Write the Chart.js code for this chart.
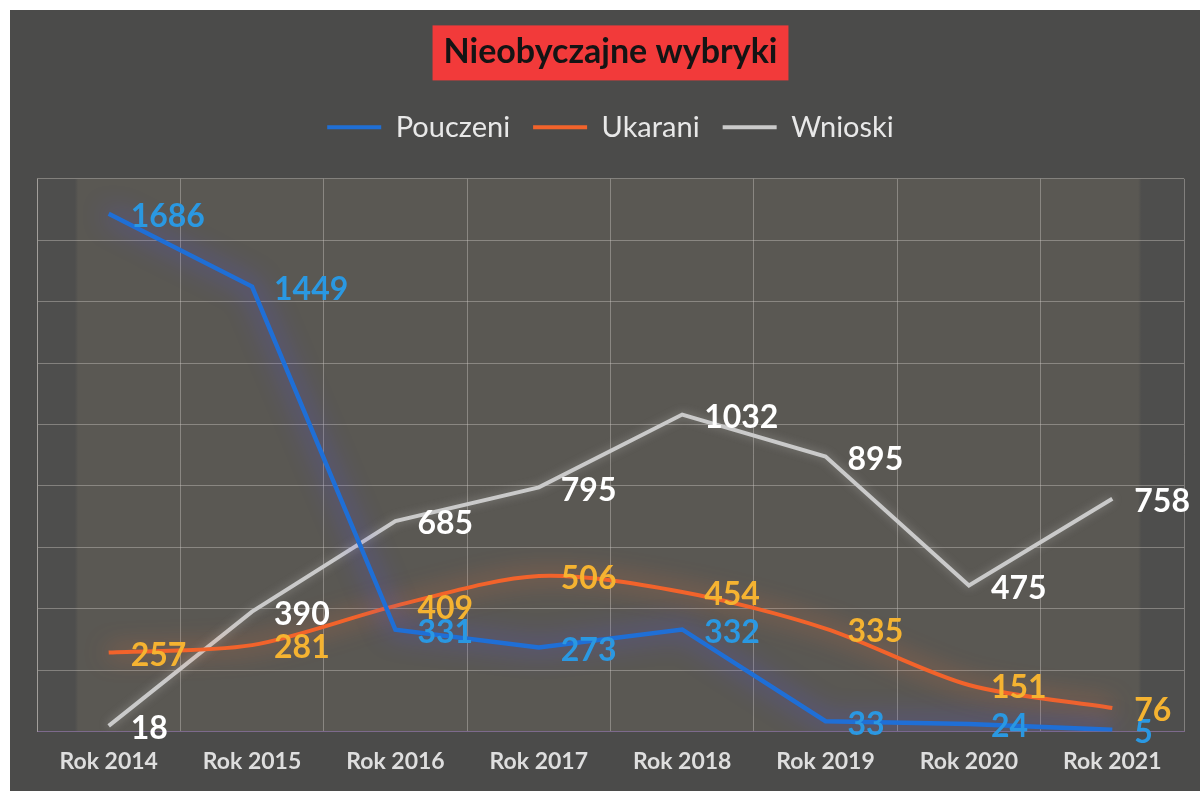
<!DOCTYPE html>
<html lang="pl">
<head>
    <meta charset="UTF-8">
    <title>Nieobyczajne wybryki</title>
    <script src="https://cdn.jsdelivr.net/npm/chart.js"></script>
    <style>
        html, body {
            margin: 0;
            padding: 0;
            background: #ffffff;
        }
        .sheet {
            position: absolute;
            left: 10px;
            top: 10px;
            width: 1190px;
            height: 781px;
            background: #4b4b4a;
        }
        canvas {
            display: block;
        }
    </style>
</head>
<body>
    <div class="sheet">
        <canvas id="chart" width="1190" height="781"></canvas>
    </div>
    <script>
        // data
        const years = ["Rok 2014", "Rok 2015", "Rok 2016", "Rok 2017", "Rok 2018", "Rok 2019", "Rok 2020", "Rok 2021"];
        const pouczeni = [1686, 1449, 331, 273, 332, 33, 24, 5];
        const ukarani = [257, 281, 409, 506, 454, 335, 151, 76];
        const wnioski = [18, 390, 685, 795, 1032, 895, 475, 758];

        const gridColor = "rgba(205, 200, 195, 0.42)";

        // red box behind the title + lighter plot area
        const backdrop = {
            id: "backdrop",
            beforeDraw(chart) {
                const ctx = chart.ctx;
                const t = chart.titleBlock;
                const font = chart.options.plugins.title.font;
                ctx.save();
                ctx.font = font.weight + " " + font.size + "px " + font.family;
                const w = ctx.measureText(chart.options.plugins.title.text).width + 22;
                const cx = (t.left + t.right) / 2;
                const cy = t.top + font.size * 0.6;
                ctx.fillStyle = "#f23a3a";
                ctx.fillRect(cx - w / 2, cy - 27, w, 55);

                const a = chart.chartArea;
                const g = ctx.createLinearGradient(a.left, 0, a.right, 0);
                g.addColorStop(0, "#4e4e4d");
                g.addColorStop(0.033, "#4e4e4d");
                g.addColorStop(0.036, "#5a5853");
                g.addColorStop(0.96, "#5a5853");
                g.addColorStop(0.963, "#4e4e4d");
                g.addColorStop(1, "#4e4e4d");
                ctx.fillStyle = g;
                ctx.fillRect(a.left, a.top, a.right - a.left, a.bottom - a.top);
                ctx.restore();
            }
        };

        // soft glow around each line
        const glow = {
            id: "glow",
            beforeDatasetDraw(chart, args) {
                const ds = chart.data.datasets[args.index];
                chart.ctx.save();
                chart.ctx.shadowColor = ds.glowColor;
                chart.ctx.shadowBlur = ds.glowBlur;
            },
            afterDatasetDraw(chart) {
                chart.ctx.restore();
            }
        };

        // value labels to the right of each point
        const valueLabels = {
            id: "valueLabels",
            afterDatasetsDraw(chart) {
                const ctx = chart.ctx;
                ctx.save();
                ctx.font = "bold 32px Lato";
                ctx.textAlign = "left";
                ctx.textBaseline = "middle";
                chart.data.datasets.forEach((ds, i) => {
                    const meta = chart.getDatasetMeta(i);
                    ctx.fillStyle = ds.labelColor;
                    meta.data.forEach((pt, j) => {
                        ctx.fillText(ds.data[j], pt.x + 22, pt.y + 3);
                    });
                });
                ctx.restore();
            }
        };

        // more room between legend and plot
        const legendGap = {
            id: "legendGap",
            beforeInit(chart) {
                const fit = chart.legend.fit;
                chart.legend.fit = function () {
                    fit.call(this);
                    this.height += 27;
                };
            }
        };

        const chart = new Chart(document.getElementById("chart"), {
            type: "line",
            data: {
                labels: years,
                datasets: [
                    {
                        label: "Pouczeni",
                        data: pouczeni,
                        borderColor: "#1f6fd6",
                        backgroundColor: "#1f6fd6",
                        borderWidth: 4.5,
                        tension: 0,
                        pointRadius: 0,
                        glowColor: "rgba(85, 80, 240, 0.95)",
                        glowBlur: 26,
                        labelColor: "#2a98e2"
                    },
                    {
                        label: "Ukarani",
                        data: ukarani,
                        borderColor: "#f2632b",
                        backgroundColor: "#f2632b",
                        borderWidth: 4,
                        tension: 0.3,
                        pointRadius: 0,
                        glowColor: "rgba(255, 120, 60, 0.8)",
                        glowBlur: 24,
                        labelColor: "#f5b331"
                    },
                    {
                        label: "Wnioski",
                        data: wnioski,
                        borderColor: "#cacaca",
                        backgroundColor: "#cacaca",
                        borderWidth: 4,
                        tension: 0,
                        pointRadius: 0,
                        glowColor: "rgba(230, 230, 230, 0.35)",
                        glowBlur: 10,
                        labelColor: "#ffffff"
                    }
                ]
            },
            options: {
                responsive: false,
                animation: false,
                layout: {
                    padding: { top: 22, left: 27, right: 16, bottom: 0 }
                },
                scales: {
                    x: {
                        offset: true,
                        grid: { offset: true, color: gridColor, drawTicks: false },
                        border: { color: "#7d6a8c" },
                        ticks: {
                            color: "#dedede",
                            font: { family: "Lato", size: 23, weight: "bold" },
                            padding: 16,
                            maxRotation: 0,
                            autoSkip: false
                        }
                    },
                    y: {
                        min: 0,
                        max: 1800,
                        ticks: { display: false, stepSize: 200 },
                        grid: { color: gridColor, drawTicks: false },
                        border: { color: gridColor }
                    }
                },
                plugins: {
                    title: {
                        display: true,
                        text: "Nieobyczajne wybryki",
                        color: "#141414",
                        font: { family: "Lato", size: 34, weight: "bold" },
                        padding: { top: 0, bottom: 17 }
                    },
                    legend: {
                        labels: {
                            color: "#e8e8e8",
                            font: { family: "Lato", size: 29 },
                            boxWidth: 54,
                            boxHeight: 4,
                            padding: 23,
                            generateLabels(chart) {
                                return Chart.defaults.plugins.legend.labels.generateLabels(chart)
                                    .map(item => ({ ...item, fillStyle: item.strokeStyle, lineWidth: 0 }));
                            }
                        }
                    },
                    tooltip: { enabled: false }
                }
            },
            plugins: [backdrop, glow, valueLabels, legendGap]
        });
    </script>
</body>
</html>
